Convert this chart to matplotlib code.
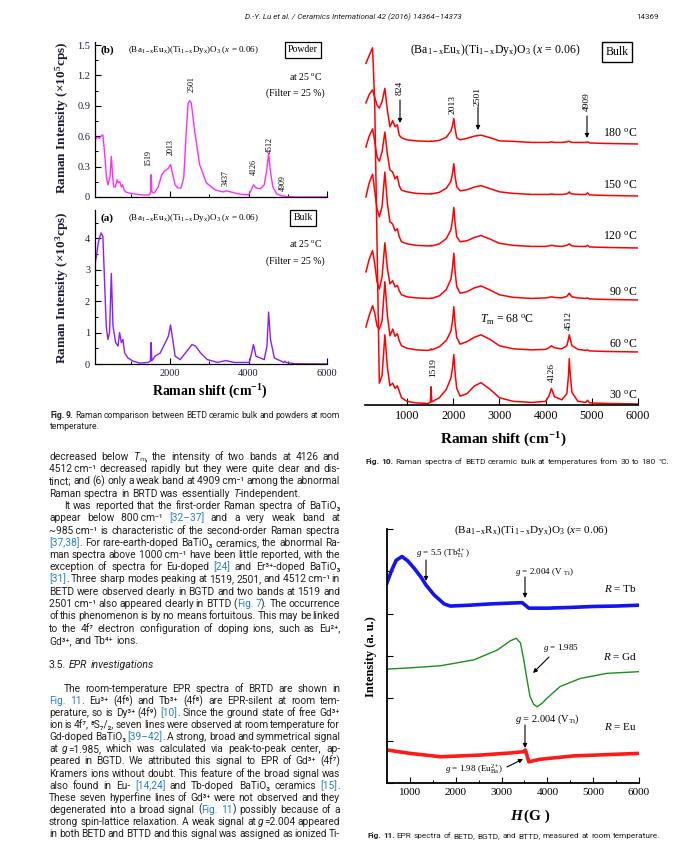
import re
import numpy as np
import matplotlib
matplotlib.use('Agg')
import matplotlib.pyplot as plt
from matplotlib.patches import FancyArrowPatch
from matplotlib.ticker import MultipleLocator, FuncFormatter

# page size in pixels
W, H = 692, 857

# ---------------- Fig. 9 data (Raman shift cm-1, intensity) ----------------
powder_shift = [100, 150, 200, 260, 290, 330, 380, 418, 470, 505, 535, 565, 610, 650,
                690, 720, 760, 790, 830, 870, 950, 1100, 1300, 1480, 1505, 1519, 1535,
                1600, 1700, 1790, 1870, 1950, 2013, 2070, 2130, 2200, 2280, 2350, 2415,
                2460, 2501, 2542, 2628, 2755, 2925, 3150, 3350, 3437, 3550, 3750, 4000,
                4060, 4126, 4190, 4300, 4400, 4460, 4512, 4560, 4620, 4720, 4850, 4909,
                4960, 5200, 6000]
powder_int = [0.57, 0.59, 0.58, 0.61, 0.61, 0.45, 0.20, 0.12, 0.20, 0.40, 0.22, 0.10, 0.10, 0.17,
              0.14, 0.15, 0.10, 0.12, 0.07, 0.05, 0.04, 0.03, 0.02, 0.02, 0.05, 0.22, 0.05,
              0.04, 0.10, 0.22, 0.26, 0.28, 0.32, 0.22, 0.12, 0.09, 0.09, 0.19, 0.65,
              0.92, 0.95, 0.93, 0.65, 0.32, 0.14, 0.07, 0.05, 0.06, 0.05, 0.03, 0.02,
              0.06, 0.12, 0.09, 0.08, 0.12, 0.25, 0.43, 0.25, 0.10, 0.03, 0.01, 0.01,
              0.005, 0.0, 0.0]
powder_peaks = ['1519', '2013', '2501', '3437', '4126', '4512', '4909']
bulk_shift = [100, 130, 165, 200, 245, 290, 333, 376, 418, 460, 505, 547, 615, 675, 715,
              760, 800, 845, 930, 1060, 1230, 1440, 1500, 1519, 1535, 1620, 1750, 1880,
              1960, 2013, 2070, 2130, 2260, 2430, 2560, 2650, 2780, 2950, 3210, 3420,
              3630, 4020, 4080, 4126, 4190, 4400, 4470, 4512, 4560, 4660, 4900, 4930,
              4960, 5170, 6000]
bulk_int = [3.26, 3.47, 3.8, 4.0, 4.17, 4.06, 2.6, 1.2, 0.78, 1.0, 2.88, 1.21, 0.68, 0.57, 1.0,
            0.68, 0.78, 0.35, 0.19, 0.09, 0.03, 0.05, 0.09, 0.68, 0.10, 0.25, 0.35, 0.68,
            0.89, 1.24, 0.78, 0.25, 0.14, 0.41, 0.62, 0.57, 0.35, 0.14, 0.05, 0.11,
            0.05, 0.05, 0.35, 0.62, 0.25, 0.14, 0.57, 1.65, 0.78, 0.19, 0.05, 0.09,
            0.05, 0.01, 0.0]

# ---------------- Fig. 10 data (stacked, one unit per curve) ----------------
shift10 = [110, 180, 254, 300, 350, 400, 460, 520, 575, 630, 690, 740, 790, 830, 880,
           1000, 1200, 1450, 1505, 1519, 1535, 1700, 1850, 1950, 1985, 2013, 2040, 2075,
           2150, 2300, 2450, 2600, 2800, 3000, 3300, 3700, 4000, 4070, 4126, 4190, 4350,
           4460, 4495, 4512, 4535, 4570, 4700, 4870, 4909, 4950, 5300, 6000]
temps10 = ['30', '60', '90', '120', '150', '180']
int30 = [6.55, 6.7, 6.85, 5.8, 3.1, 0.40, 0.55, 1.33, 0.70, 0.35, 0.40, 0.30, 0.35, 0.25, 0.12,
         0.05, 0.02, 0.01, 0.03, 0.33, 0.04, 0.12, 0.28, 0.50, 0.70, 0.95, 0.60, 0.30,
         0.15, 0.20, 0.34, 0.41, 0.28, 0.12, 0.05, 0.03, 0.05, 0.15, 0.30, 0.14, 0.08,
         0.20, 0.55, 0.87, 0.55, 0.22, 0.05, 0.03, 0.07, 0.02, 0.01, 0.0]
int60 = [0.48, 0.70, 0.89, 0.75, 0.50, 0.44, 0.60, 1.35, 0.70, 0.31, 0.44, 0.30, 0.35, 0.22, 0.12,
         0.07, 0.04, 0.03, 0.04, 0.06, 0.04, 0.10, 0.22, 0.40, 0.60, 0.87, 0.55, 0.28,
         0.15, 0.20, 0.28, 0.33, 0.24, 0.12, 0.06, 0.04, 0.05, 0.08, 0.12, 0.08, 0.06,
         0.12, 0.25, 0.33, 0.24, 0.12, 0.05, 0.03, 0.04, 0.02, 0.01, 0.0]
int90 = [0.54, 0.78, 0.95, 0.70, 0.35, 0.21, 0.45, 1.10, 0.60, 0.31, 0.37, 0.25, 0.28, 0.18, 0.10,
         0.06, 0.04, 0.03, 0.03, 0.04, 0.03, 0.08, 0.20, 0.40, 0.62, 0.90, 0.55, 0.26,
         0.13, 0.16, 0.23, 0.27, 0.19, 0.10, 0.05, 0.03, 0.04, 0.05, 0.06, 0.05, 0.04,
         0.07, 0.11, 0.13, 0.10, 0.06, 0.04, 0.03, 0.04, 0.02, 0.01, 0.0]
int120 = [0.98, 1.25, 1.42, 1.10, 0.75, 0.60, 0.80, 1.46, 0.85, 0.50, 0.46, 0.33, 0.37, 0.22, 0.12,
          0.08, 0.05, 0.04, 0.04, 0.05, 0.04, 0.08, 0.18, 0.35, 0.55, 0.78, 0.48, 0.22,
          0.12, 0.14, 0.20, 0.24, 0.17, 0.09, 0.05, 0.03, 0.03, 0.04, 0.05, 0.04, 0.03,
          0.05, 0.07, 0.08, 0.06, 0.04, 0.03, 0.03, 0.05, 0.02, 0.01, 0.0]
int150 = [0.94, 1.15, 1.29, 1.05, 0.75, 0.67, 0.85, 1.23, 0.80, 0.50, 0.46, 0.33, 0.38, 0.20, 0.11,
          0.08, 0.05, 0.04, 0.04, 0.05, 0.04, 0.07, 0.15, 0.28, 0.44, 0.62, 0.38, 0.18,
          0.10, 0.12, 0.17, 0.20, 0.14, 0.08, 0.05, 0.03, 0.03, 0.03, 0.04, 0.03, 0.03,
          0.04, 0.06, 0.08, 0.05, 0.04, 0.03, 0.03, 0.06, 0.02, 0.01, 0.0]
int180 = [0.79, 0.95, 1.04, 0.90, 0.75, 0.69, 0.82, 1.07, 0.65, 0.33, 0.45, 0.33, 0.37, 0.17, 0.12,
          0.08, 0.06, 0.05, 0.05, 0.06, 0.05, 0.07, 0.13, 0.25, 0.36, 0.49, 0.30, 0.12,
          0.08, 0.11, 0.15, 0.17, 0.12, 0.06, 0.05, 0.03, 0.03, 0.03, 0.04, 0.03, 0.03,
          0.04, 0.05, 0.05, 0.04, 0.03, 0.03, 0.03, 0.04, 0.02, 0.01, 0.0]
curves10 = [int30, int60, int90, int120, int150, int180]

# ---------------- Fig. 11 data (field G, intensity a.u.) ----------------
tb_field = [500, 600, 700, 826, 950, 1095, 1250, 1348, 1530, 1748, 1880, 2300, 2750, 3200,
            3450, 3520, 3595, 4000, 4570, 5000, 5500, 6000]
tb_int = [4.73, 5.02, 5.26, 5.35, 5.25, 5.07, 4.85, 4.68, 4.44, 4.23, 4.18, 4.20, 4.23, 4.25,
          4.26, 4.20, 4.13, 4.13, 4.15, 4.17, 4.18, 4.20]
gd_field = [500, 1000, 1670, 2400, 2905, 3195, 3320, 3413, 3485, 3558, 3620, 3700, 3775,
            3880, 3990, 4280, 4720, 5300, 6000]
gd_int = [2.69, 2.72, 2.77, 2.91, 3.14, 3.36, 3.42, 3.31, 2.91, 2.43, 2.05, 1.86, 1.80,
          1.88, 2.00, 2.28, 2.47, 2.59, 2.63]
eu_field = [500, 1000, 1670, 2540, 3200, 3485, 3520, 3595, 3840, 4570, 5300, 6000]
eu_int = [0.78, 0.70, 0.62, 0.66, 0.71, 0.74, 0.78, 0.50, 0.56, 0.64, 0.67, 0.70]

# ---------------- page text ----------------
header = 'D.-Y. Lu et al. / Ceramics International 42 (2016) 14364\u201314373'
page_no = '14369'
# '>' = indented first line, trailing '|' = line not justified
text_top = [
    'decreased below <i>T</i>\u2098, the intensity of two bands at 4126 and',
    '4512\u2009cm\u207b\u00b9 decreased rapidly but they were quite clear and dis-',
    'tinct; and (6) only a weak band at 4909\u2009cm\u207b\u00b9 among the abnormal',
    'Raman spectra in BRTD was essentially <i>T</i>-independent.|',
    '>It was reported that the first-order Raman spectra of BaTiO\u2083',
    'appear below 800\u2009cm\u207b\u00b9 <r>[32\u201337]</r> and a very weak band at',
    '~985\u2009cm\u207b\u00b9 is characteristic of the second-order Raman spectra',
    '<r>[37,38]</r>. For rare-earth-doped BaTiO\u2083 ceramics, the abnormal Ra-',
    'man spectra above 1000\u2009cm\u207b\u00b9 have been little reported, with the',
    'exception of spectra for Eu-doped <r>[24]</r> and Er\u00b3\u207a-doped BaTiO\u2083',
    '<r>[31]</r>. Three sharp modes peaking at 1519, 2501, and 4512\u2009cm\u207b\u00b9 in',
    'BETD were observed clearly in BGTD and two bands at 1519 and',
    '2501\u2009cm\u207b\u00b9 also appeared clearly in BTTD (<r>Fig. 7</r>). The occurrence',
    'of this phenomenon is by no means fortuitous. This may be linked',
    'to the 4f\u2077 electron configuration of doping ions, such as Eu\u00b2\u207a,',
    'Gd\u00b3\u207a, and Tb\u2074\u207a ions.|',
]
section = '3.5.  <i>EPR investigations</i>|'
text_bottom = [
    '>The room-temperature EPR spectra of BRTD are shown in',
    '<r>Fig. 11</r>. Eu\u00b3\u207a (4f\u2076) and Tb\u00b3\u207a (4f\u2078) are EPR-silent at room tem-',
    'perature, so is Dy\u00b3\u207a (4f\u2079) <r>[10]</r>. Since the ground state of free Gd\u00b3\u207a',
    'ion is 4f\u2077, \u2078S\u2087/\u2082, seven lines were observed at room temperature for',
    'Gd-doped BaTiO\u2083 <r>[39\u201342]</r>. A strong, broad and symmetrical signal',
    'at <i>g</i>=1.985, which was calculated via peak-to-peak center, ap-',
    'peared in BGTD. We attributed this signal to EPR of Gd\u00b3\u207a (4f\u2077)',
    'Kramers ions without doubt. This feature of the broad signal was',
    'also found in Eu- <r>[14,24]</r> and Tb-doped BaTiO\u2083 ceramics <r>[15]</r>.',
    'These seven hyperfine lines of Gd\u00b3\u207a were not observed and they',
    'degenerated into a broad signal (<r>Fig. 11</r>) possibly because of a',
    'strong spin-lattice relaxation. A weak signal at <i>g</i>=2.004 appeared',
    'in both BETD and BTTD and this signal was assigned as ionized Ti-',
]
cap9 = ['<b>Fig. 9.</b> Raman comparison between BETD ceramic bulk and powders at room',
        'temperature.|']
cap10 = ['<b>Fig. 10.</b> Raman spectra of BETD ceramic bulk at temperatures from 30 to 180 \u00b0C.|']
cap11 = ['<b>Fig. 11.</b> EPR spectra of BETD, BGTD, and BTTD, measured at room temperature.|']

formula = r'(Ba$_{\mathrm{1-x}}$Eu$_{\mathrm{x}}$)(Ti$_{\mathrm{1-x}}$Dy$_{\mathrm{x}}$)O$_3$ ($x$ = 0.06)'
formula11 = r'(Ba$_{\mathrm{1-x}}$R$_{\mathrm{x}}$)(Ti$_{\mathrm{\,1-x}}$Dy$_{\mathrm{x}}$)O$_3$ ($x$= 0.06)'

SERIF = ['Liberation Serif', 'DejaVu Serif']
SANS = ['Roboto', 'DejaVu Sans']
INK = '#231f20'
REF = '#2a7fc4'

plt.rcParams['mathtext.fontset'] = 'custom'
plt.rcParams['mathtext.rm'] = 'Liberation Serif'
plt.rcParams['mathtext.it'] = 'Liberation Serif:italic'
plt.rcParams['mathtext.bf'] = 'Liberation Serif:bold'
plt.rcParams['font.family'] = SERIF

fig = plt.figure(figsize=(W / 100, H / 100), dpi=100)
renderer = fig.canvas.get_renderer()


def fx(x):
    return x / W


def fy(y):
    return 1 - y / H


def rect(l, t, r, b):
    return [l / W, 1 - b / H, (r - l) / W, (b - t) / H]


def label(x, y, s, size, ha='left', va='center', **kw):
    return fig.text(fx(x), fy(y), s, fontsize=size, ha=ha, va=va, family=SERIF, **kw)


def arrow(x0, y0, x1, y1):
    fig.add_artist(FancyArrowPatch((fx(x0), fy(y0)), (fx(x1), fy(y1)),
                                   transform=fig.transFigure, arrowstyle='-|>',
                                   mutation_scale=6, lw=0.8, color='k',
                                   shrinkA=0, shrinkB=0))


TAG = re.compile(r'<([rib])>(.*?)</\1>')
STYLE = {'n': {}, 'r': {'color': REF}, 'i': {'fontstyle': 'italic'}, 'b': {'fontweight': 'bold'}}


def parse(line):
    segs, pos = [], 0
    for m in TAG.finditer(line):
        if m.start() > pos:
            segs.append((line[pos:m.start()], 'n'))
        segs.append((m.group(2), m.group(1)))
        pos = m.end()
    if pos < len(line):
        segs.append((line[pos:], 'n'))
    return segs


def build(raw, y, size):
    """Make the word pieces of one line; return rows, justify flag, indent."""
    justify = not raw.endswith('|')
    line = raw.rstrip('|')
    indent = 0
    if line.startswith('>'):
        line = line[1:]
        indent = 15
    words = [[]]
    for txt, key in parse(line):
        for i, part in enumerate(txt.split(' ')):
            if i:
                words.append([])
            if part:
                words[-1].append((part, key))
    rows = []
    for word in [w for w in words if w]:
        row = []
        for part, key in word:
            t = fig.text(0, fy(y), part, fontsize=size, family=SANS, va='baseline', color=INK)
            t.set(**STYLE[key])
            row.append((t, t.get_window_extent(renderer).width))
        rows.append(row)
    return rows, justify, indent


def block(lines, x0, x1, y0, step, size):
    # one common font size for the whole block, small enough for every line
    scale = 1.0
    for raw in lines:
        rows, _, indent = build(raw, y0, size)
        total = sum(w for row in rows for _, w in row)
        space = 0.6 * 0.27 * size * 100 / 72 * (len(rows) - 1)
        scale = min(scale, (x1 - x0 - indent - space) / total)
        for row in rows:
            for t, _ in row:
                t.remove()
    size *= scale
    for k, raw in enumerate(lines):
        y = y0 + step * k
        rows, justify, indent = build(raw, y, size)
        widths = [sum(w for _, w in row) for row in rows]
        gap = 0.27 * size * 100 / 72
        left = x0 + indent
        if justify and len(rows) > 1:
            gap = (x1 - left - sum(widths)) / (len(rows) - 1)
        x = left
        for row in rows:
            for t, w in row:
                t.set_x(fx(x))
                x += w
            x += gap


def clean(ax):
    for s in ['top', 'right']:
        ax.spines[s].set_visible(False)
    for s in ['left', 'bottom']:
        ax.spines[s].set_linewidth(0.9)
    ax.tick_params(which='both', direction='in', top=False, right=False)
    ax.tick_params(which='major', length=4, width=0.8)
    ax.tick_params(which='minor', length=2, width=0.7)


# ---------------- Fig. 9 ----------------
ax9b = fig.add_axes(rect(95, 42, 327, 197))
ax9b.plot(powder_shift, powder_int, color='#ff2bff', lw=1.0)
ax9b.set_xlim(89, 6000)
ax9b.set_ylim(0, 1.53)
clean(ax9b)
ax9b.xaxis.set_major_locator(MultipleLocator(2000))
ax9b.xaxis.set_minor_locator(MultipleLocator(1000))
ax9b.yaxis.set_major_locator(MultipleLocator(0.3))
ax9b.yaxis.set_minor_locator(MultipleLocator(0.15))
ax9b.yaxis.set_major_formatter(FuncFormatter(lambda v, p: '0' if abs(v) < 1e-9 else f'{v:.1f}'))
ax9b.tick_params(labelbottom=False, labelsize=7.5, labelcolor='#1c1c3c')

ax9a = fig.add_axes(rect(95, 210, 327, 364))
ax9a.plot(bulk_shift, bulk_int, color='#8a1cff', lw=1.0)
ax9a.set_xlim(89, 6000)
ax9a.set_ylim(0, 4.9)
clean(ax9a)
ax9a.xaxis.set_major_locator(MultipleLocator(2000))
ax9a.xaxis.set_minor_locator(MultipleLocator(1000))
ax9a.yaxis.set_major_locator(MultipleLocator(1))
ax9a.yaxis.set_minor_locator(MultipleLocator(0.5))
ax9a.tick_params(labelsize=7.5, labelcolor='#1c1c3c')

label(100, 50, '(b)', 8, weight='bold')
label(128, 50, formula, 6.5)
label(303, 50, 'Powder', 7, ha='center',
      bbox=dict(boxstyle='square,pad=0.35', fc='white', ec='black', lw=0.9))
label(322, 77, r'at 25 $^{\mathrm{o}}$C', 7, ha='right')
label(325, 93, '(Filter = 25 %)', 7, ha='right')
label(100, 218, '(a)', 8, weight='bold')
label(128, 218, formula, 6.5)
label(303, 218, 'Bulk', 7, ha='center',
      bbox=dict(boxstyle='square,pad=0.35', fc='white', ec='black', lw=0.9))
label(322, 244, r'at 25 $^{\mathrm{o}}$C', 7, ha='right')
label(325, 261, '(Filter = 25 %)', 7, ha='right')
for txt, (px, py) in zip(powder_peaks, [(148, 158), (171, 147), (192, 84), (226, 178),
                                         (254, 167), (270, 145), (283, 183)]):
    label(px, py, txt, 5.8, ha='center', rotation=90)
label(62, 118, r'Raman Intensity (×10$^{\mathbf{5}}$cps)', 9.5, ha='center',
      rotation=90, weight='bold', color='#1c1c3c')
label(62, 288, r'Raman Intensity (×10$^{\mathbf{3}}$cps)', 9.5, ha='center',
      rotation=90, weight='bold', color='#1c1c3c')
label(210, 392, r'Raman shift (cm$^{\mathbf{-1}}$)', 10, ha='center', weight='bold')

# ---------------- Fig. 10 ----------------
ax10 = fig.add_axes(rect(365, 40, 638, 405))
for i, ys in enumerate(curves10):
    ax10.plot(shift10, np.asarray(ys) + i, color='#ff0000', lw=1.1)
ax10.set_xlim(90, 6000)
ax10.set_ylim(-0.02, 7.0)
clean(ax10)
ax10.spines['left'].set_visible(False)
ax10.spines['bottom'].set_linewidth(1.2)
ax10.set_yticks([])
ax10.xaxis.set_major_locator(MultipleLocator(1000))
ax10.tick_params(labelsize=8.7, length=5)

label(495, 50, formula, 8.5, ha='center')
label(617, 52, 'Bulk', 8.5, ha='center',
      bbox=dict(boxstyle='square,pad=0.3', fc='white', ec='black', lw=1.0))
for t, py in zip(temps10, [396, 345, 293, 237, 186, 134]):
    label(637, py, t + r' $^{\mathrm{o}}$C', 8.5, ha='right')
for txt, (px, py) in zip(['824', '2013', '2501', '4909', '4512', '1519', '4126'],
                         [(400, 88), (453, 104), (478, 96), (587, 102),
                          (569, 321), (433, 368), (552, 372)]):
    label(px, py, txt, 6.8, ha='center', rotation=90)
arrow(400, 100, 400, 123)
arrow(478, 107, 478, 130)
arrow(587, 116, 587, 138)
label(480, 320, r'$T_{\mathrm{m}}$ = 68 $^{\mathrm{o}}$C', 8.5)
label(503, 440, r'Raman shift (cm$^{\mathbf{-1}}$)', 11, ha='center', weight='bold')

# ---------------- Fig. 11 ----------------
ax11 = fig.add_axes(rect(387, 529, 639, 783))
ax11.plot(tb_field, tb_int, color='#1414f0', lw=2.6)
ax11.plot(gd_field, gd_int, color='#1e8c1e', lw=1.0)
ax11.plot(eu_field, eu_int, color='#ff1a1a', lw=2.6)
ax11.set_xlim(500, 6000)
ax11.set_ylim(0, 6)
clean(ax11)
ax11.spines['left'].set_linewidth(1.3)
ax11.spines['bottom'].set_linewidth(1.3)
ax11.xaxis.set_major_locator(MultipleLocator(1000))
ax11.xaxis.set_minor_locator(MultipleLocator(500))
ax11.yaxis.set_major_locator(MultipleLocator(1))
ax11.tick_params(labelleft=False, labelsize=8)

label(531, 530, formula11, 8, ha='center')
label(416, 553, r'$g$ = 5.5 (Tb$^{4+}_{\mathrm{Ti}}$)', 6.5)
arrow(426, 560, 426, 581)
label(515, 572, r'$g$ = 2.004 (V $_{\mathrm{Ti}}$)', 6.5)
arrow(525, 577, 525, 598)
label(637, 588, r'$R$ = Tb', 8, ha='right')
label(543, 648, r'$g$ = 1.985', 6.5)
arrow(549, 657, 533, 673)
label(637, 656, r'$R$ = Gd', 8, ha='right')
label(515, 719, r'$g$ = 2.004 (V$_{\mathrm{Ti}}$)', 7.5)
arrow(525, 725, 525, 748)
label(637, 727, r'$R$ = Eu', 8, ha='right')
label(445, 769, r'$g$ = 1.98 (Eu$^{2+}_{\mathrm{Ba}}$)', 6.5)
arrow(507, 767, 523, 759)
label(371, 657, 'Intensity (a. u.)', 9, ha='center', rotation=90, weight='bold')
label(522, 816, 'H', 11, ha='right', weight='bold', style='italic')
label(524, 816, '(G )', 11, ha='left', weight='bold')

# ---------------- page text ----------------
fig.text(fx(353), fy(17), header, fontsize=5.8, style='italic', family=SANS,
         ha='center', va='center', color=INK)
fig.text(fx(648), fy(17), page_no, fontsize=5.8, family=SANS, ha='center',
         va='center', color=INK)
block(text_top, 49, 340, 460, 12.25, 7.6)
block([section], 49, 340, 668, 12, 7.6)
block(text_bottom, 49, 340, 692, 12.08, 7.6)
block(cap9, 50, 340, 418, 11, 6.2)
block(cap10, 365, 655, 464, 11, 6.2)
block(cap11, 367, 650, 838, 11, 6.2)

fig.savefig('out.png', dpi=100)
